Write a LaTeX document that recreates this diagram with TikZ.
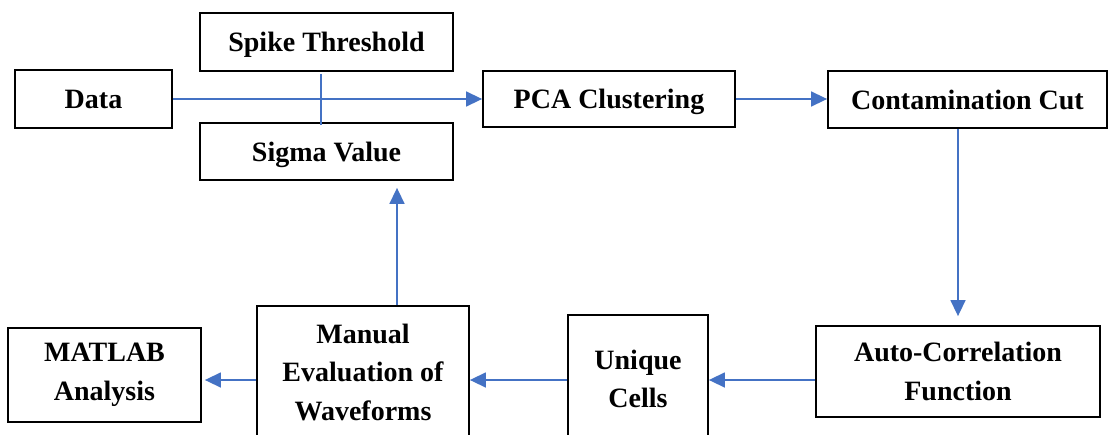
\documentclass[tikz,border=0pt]{standalone}
\usepackage{fontspec}
\setmainfont{Liberation Serif}
\usetikzlibrary{arrows.meta}
\definecolor{arrowblue}{HTML}{4472C4}
\begin{document}
\begin{tikzpicture}[x=1pt,y=-1pt,
  box/.style={draw=black, line width=1.8pt, inner sep=0pt, fill=white,
    font=\fontsize{28}{38.5}\selectfont\bfseries, align=center},
  oneline/.style={text height=19pt, text depth=0pt},
  lbl/.style={font=\fontsize{28}{38.5}\selectfont\bfseries, align=center, inner sep=0pt},
  conn/.style={draw=arrowblue, line width=1.5pt},
  arr/.style={conn, -{Triangle[length=16pt,width=15pt]}}]
\useasboundingbox (0,0) rectangle (1109,434);
\clip (0,0) rectangle (1109,434);
% boxes
\node[box, oneline, minimum width=157pt, minimum height=58pt] (data) at (93.5,99) {Data};
\node[box, oneline, minimum width=253pt, minimum height=58pt] (spike) at (326.5,42) {Spike Threshold};
\node[box, oneline, minimum width=253pt, minimum height=57pt] (sigma) at (326.5,151.5) {Sigma Value};
\node[box, oneline, minimum width=252pt, minimum height=56pt] (pca) at (609,99) {PCA Clustering};
\node[box, oneline, minimum width=279pt, minimum height=57pt] (contam) at (967.5,99.5) {Contamination Cut};
\node[box, minimum width=284pt, minimum height=91pt] (auto) at (958,371.5) {Auto-Correlation\\Function};
\node[box, minimum width=140pt, minimum height=135pt] (unique) at (638,382.5) {};
\node[lbl] (uniquetxt) at (638,379) {Unique\\Cells};
\node[box, minimum width=212pt, minimum height=144pt] (manual) at (363,378) {};
\node[lbl] (manualtxt) at (363,372) {Manual\\Evaluation of\\Waveforms};
\node[box, minimum width=193pt, minimum height=94pt] (matlab) at (104.5,375) {MATLAB\\Analysis};
% helper coordinates
\coordinate (row) at (0,380);
\coordinate (upx) at (397,0);
\coordinate (thx) at (321,0);
% connectors
\draw[arr] (data.east) -- (data.east -| pca.west);
\draw[arr] (pca.east) -- (pca.east -| contam.west);
\draw[arr, shorten >=9pt] (auto.north |- contam.south) -- (auto.north);
\draw[arr] (auto.west |- row) -- (unique.east |- row);
\draw[arr] (unique.west |- row) -- (manual.east |- row);
\draw[arr, shorten >=3pt] (manual.west |- row) -- (matlab.east |- row);
\draw[arr, shorten >=7pt] (upx |- manual.north) -- (upx |- sigma.south);
\draw[conn, shorten <=2pt, shorten >=-3pt] (thx |- spike.south) -- (thx |- sigma.north);
\end{tikzpicture}
\end{document}
